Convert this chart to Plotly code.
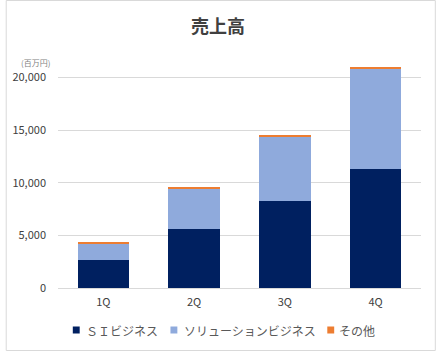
import plotly.graph_objects as go

quarters = ["1Q", "2Q", "3Q", "4Q"]
si_business = [2700, 5650, 8310, 11330]
solution_business = [1540, 3830, 6090, 9540]
other = [70, 70, 70, 90]
tick_vals = [0, 5000, 10000, 15000, 20000]
tick_text = ["0", "5,000", "10,000", "15,000", "20,000"]
series_names = ["ＳＩビジネス", "ソリューションビジネス", "その他"]
series_colors = ["#002060", "#8FAADC", "#ED7D31"]

W, H = 436, 351
ML, MR, MT, MB = 53, 15, 65, 63
FONT = "Noto Sans CJK JP, Meiryo, sans-serif"
pw = W - ML - MR
ph = H - MT - MB


def px_x(x):
    return (x - ML) / pw


def px_y(y):
    return (ph - (y - MT)) / ph


fig = go.Figure()
for vals, name, color in zip([si_business, solution_business, other], series_names, series_colors):
    fig.add_bar(x=quarters, y=vals, name=name, marker_color=color, marker_line_width=0)

fig.update_layout(
    width=W, height=H,
    margin=dict(l=ML, r=MR, t=MT, b=MB),
    barmode="stack",
    bargap=0.435,
    paper_bgcolor="white",
    plot_bgcolor="white",
    font=dict(family=FONT, color="#595959", size=11),
    title=dict(text="<b>売上高</b>", x=0.5, xanchor="center", y=1 - 27 / H, yanchor="middle",
               font=dict(size=18, color="#404040", family=FONT)),
    showlegend=False,
    xaxis=dict(showline=True, linecolor="#d9d9d9", linewidth=1, ticks="", showgrid=False,
               ticklabelstandoff=4, tickfont=dict(size=11, color="#404040")),
    yaxis=dict(range=[0, 21200], tickvals=tick_vals, ticktext=tick_text, showgrid=True,
               gridcolor="#d9d9d9", gridwidth=1, zeroline=False, ticks="", ticklabelstandoff=11,
               tickfont=dict(size=11, color="#404040")),
)

fig.add_annotation(text="(百万円)", xref="paper", yref="paper",
                   x=px_x(30), y=px_y(63), xanchor="center", yanchor="middle",
                   showarrow=False, font=dict(size=8, color="#7f7f7f", family=FONT))

# legend (manual, to match compact Office-style legend)
legend_sq_x = [68, 167, 326]
legend_txt_x = [79, 179, 336]
legend_y = 330
for name, color, sx, tx in zip(series_names, series_colors, legend_sq_x, legend_txt_x):
    fig.add_shape(type="rect", xref="paper", yref="paper",
                  x0=px_x(sx), x1=px_x(sx + 7), y0=px_y(legend_y + 3.5), y1=px_y(legend_y - 3.5),
                  line=dict(width=0), fillcolor=color)
    fig.add_annotation(text=name, xref="paper", yref="paper", x=px_x(tx), y=px_y(legend_y),
                       xanchor="left", yanchor="middle", showarrow=False,
                       font=dict(size=12, color="#595959", family=FONT))

fig.add_shape(type="rect", xref="paper", yref="paper",
              x0=px_x(0.5), x1=px_x(W - 0.5), y0=px_y(H - 0.5), y1=px_y(0.5),
              line=dict(color="#d9d9d9", width=1), fillcolor="rgba(0,0,0,0)", layer="below")

fig.write_html("out.html")
